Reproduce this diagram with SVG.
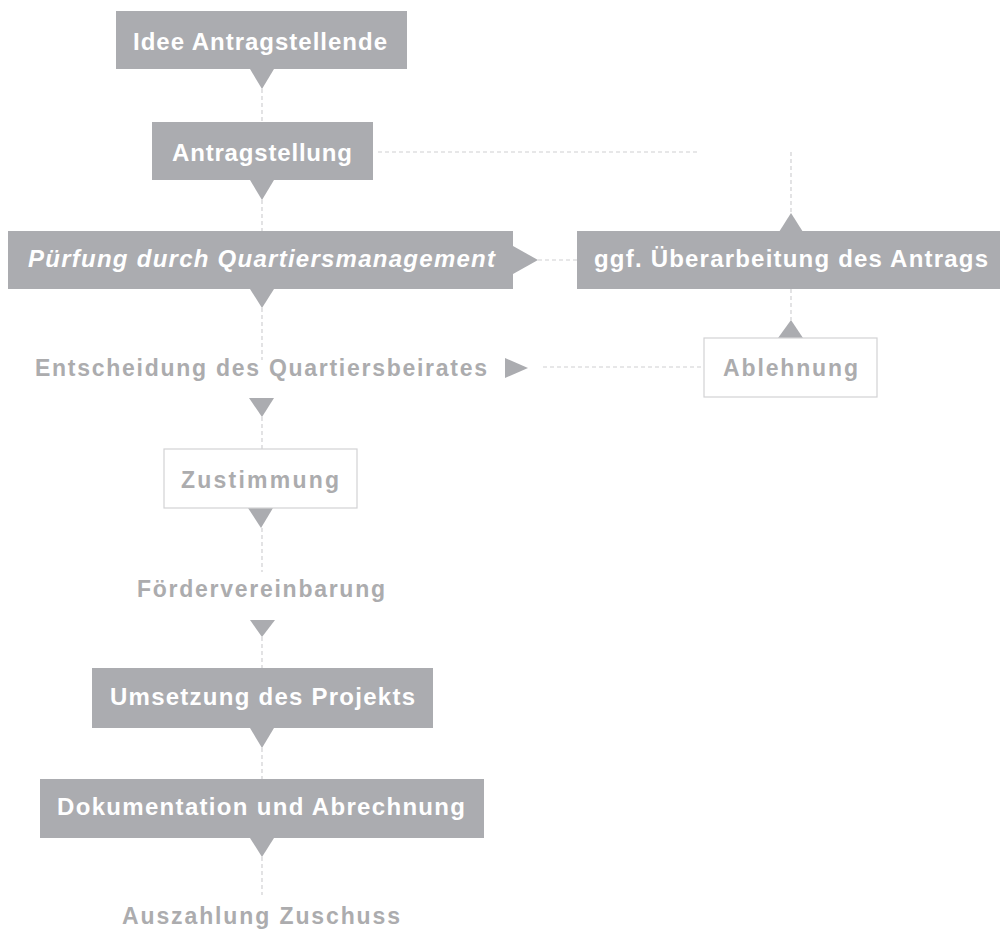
<svg xmlns="http://www.w3.org/2000/svg" width="1000" height="932" viewBox="0 0 1000 932">
<style>
.box{fill:#abacb0}
.wbox{fill:#ffffff;stroke:#d2d2d4;stroke-width:1.2}
.wt{fill:#ffffff;font-family:"Liberation Sans",Arial,sans-serif;font-weight:bold;font-size:24px;text-anchor:middle}
.gt{fill:#acacae;font-family:"Liberation Sans",Arial,sans-serif;font-weight:bold;font-size:23px;text-anchor:middle}
.ln{fill:none;stroke:#d0d0d2;stroke-width:1.2;stroke-dasharray:4 3}
.ah{fill:#abacb0}
</style>
<rect width="1000" height="932" fill="#ffffff"/>
<g id="connectors">
<path class="ln" d="M262 89V122"/>
<path class="ln" d="M262 200V231"/>
<path class="ln" d="M262 308V360"/>
<path class="ln" d="M262 417V449"/>
<path class="ln" d="M262 528V572"/>
<path class="ln" d="M262 637V668"/>
<path class="ln" d="M262 748V779"/>
<path class="ln" d="M262 857V895"/>
<path class="ln" d="M378 152H700"/>
<path class="ln" d="M791 152V213"/>
<path class="ln" d="M791 289V320"/>
<path class="ln" d="M538 260H577"/>
<path class="ln" d="M543 367H704"/>
<polygon class="ah" points="250,69 274,69 262,89"/>
<polygon class="ah" points="250,180 274,180 262,200"/>
<polygon class="ah" points="250,289 274,289 262,308"/>
<polygon class="ah" points="249,398 274,398 262,417"/>
<polygon class="ah" points="248,508 273,508 261,528"/>
<polygon class="ah" points="250,620 275,620 262,637"/>
<polygon class="ah" points="250,728 274,728 262,748"/>
<polygon class="ah" points="250,838 274,838 262,857"/>
<polygon class="ah" points="513,246 513,274 538,260"/>
<polygon class="ah" points="505,358 505,378 528,368"/>
<polygon class="ah" points="779,232 803,232 791,213"/>
<polygon class="ah" points="778,338 803,338 791,320"/>
</g>
<g id="idee">
<rect class="box" x="116" y="11" width="291" height="58"/>
<text class="wt" x="260" y="50" font-size="25" textLength="254" lengthAdjust="spacing">Idee Antragstellende</text>
</g>
<g id="antragstellung">
<rect class="box" x="152" y="122" width="221" height="58"/>
<text class="wt" x="262" y="161" font-size="25" textLength="180" lengthAdjust="spacing">Antragstellung</text>
</g>
<g id="pruefung">
<rect class="box" x="8" y="231" width="505" height="58"/>
<text class="wt" x="261.5" y="267" font-size="23" font-style="italic" textLength="467" lengthAdjust="spacing">Pürfung durch Quartiersmanagement</text>
</g>
<g id="ueberarbeitung">
<rect class="box" x="577" y="231" width="423" height="58"/>
<text class="wt" x="791" y="267" font-size="24" textLength="394" lengthAdjust="spacing">ggf. Überarbeitung des Antrags</text>
</g>
<g id="entscheidung">
<text class="gt" x="261" y="376" textLength="452" lengthAdjust="spacing">Entscheidung des Quartiersbeirates</text>
</g>
<g id="ablehnung">
<rect class="wbox" x="704" y="338" width="173" height="59"/>
<text class="gt" x="790.5" y="376" textLength="135" lengthAdjust="spacing">Ablehnung</text>
</g>
<g id="zustimmung">
<rect class="wbox" x="164" y="449" width="193" height="59"/>
<text class="gt" x="260" y="488" textLength="158" lengthAdjust="spacing">Zustimmung</text>
</g>
<g id="foerdervereinbarung">
<text class="gt" x="261" y="597" textLength="248" lengthAdjust="spacing">Fördervereinbarung</text>
</g>
<g id="umsetzung">
<rect class="box" x="92" y="668" width="341" height="60"/>
<text class="wt" x="262.5" y="705" textLength="305" lengthAdjust="spacing">Umsetzung des Projekts</text>
</g>
<g id="dokumentation">
<rect class="box" x="40" y="779" width="444" height="59"/>
<text class="wt" x="261" y="815" textLength="408" lengthAdjust="spacing">Dokumentation und Abrechnung</text>
</g>
<g id="auszahlung">
<text class="gt" x="261" y="924" textLength="278" lengthAdjust="spacing">Auszahlung Zuschuss</text>
</g>
</svg>
